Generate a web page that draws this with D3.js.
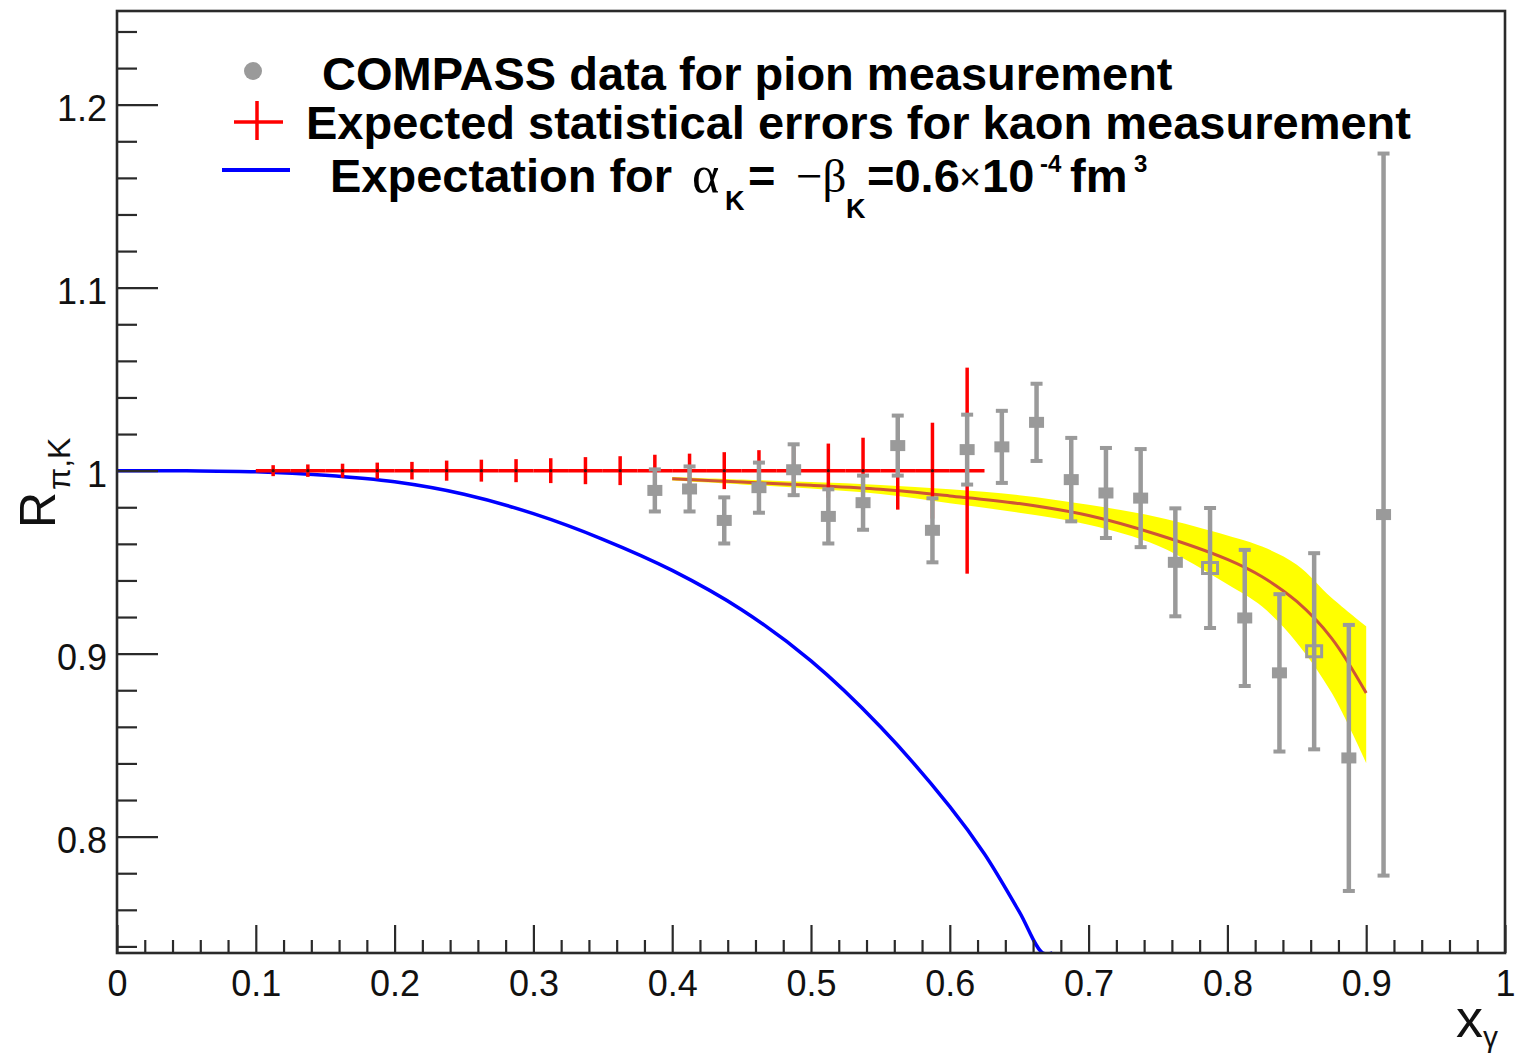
<!DOCTYPE html>
<html>
<head>
<meta charset="utf-8">
<script src="https://cdn.jsdelivr.net/npm/d3@7/dist/d3.min.js"></script>
<style>
  html, body { margin: 0; padding: 0; background: #fff; }
  svg { display: block; }
  text { font-family: "Liberation Sans", Arial, Helvetica, sans-serif; }
</style>
</head>
<body>
<svg id="chart" width="1528" height="1053"></svg>
<script>
// ---------------- data ----------------
// Expected statistical errors for kaon measurement (red crosses)
const kaonX   = [0.1125,0.1375,0.1625,0.1875,0.2125,0.2375,0.2625,0.2875,0.3125,0.3375,0.3625,0.3875,0.4125,0.4375,0.4625,0.4875,0.5125,0.5375,0.5625,0.5875,0.6125];
const kaonY   = [1,1,1,1,1,1,1,1,1,1,1,1,1,1,1,1,1,1,1,1,1];
const kaonErr = [0.0030,0.0034,0.0038,0.0044,0.0048,0.0055,0.0060,0.0063,0.0068,0.0074,0.0079,0.0087,0.0093,0.0101,0.0112,0.0126,0.0148,0.0180,0.0213,0.0262,0.0563];
const kaonBinHalf = 0.0125;

// COMPASS data for pion measurement (grey points)
const pionX   = [0.3875,0.4125,0.4375,0.4625,0.4875,0.5125,0.5375,0.5625,0.5875,0.6125,0.6375,0.6625,0.6875,0.7125,0.7375,0.7625,0.7875,0.8125,0.8375,0.8625,0.8875,0.9125];
const pionY   = [0.9892,0.9900,0.9728,0.9907,1.0005,0.9750,0.9825,1.0137,0.9674,1.0115,1.0130,1.0264,0.9951,0.9878,0.9850,0.9499,0.9468,0.9195,0.8895,0.9013,0.8430,0.9760];
const pionErr = [0.0115,0.0123,0.0126,0.0137,0.0139,0.0148,0.0148,0.0164,0.0175,0.0191,0.0197,0.0211,0.0228,0.0246,0.0268,0.0295,0.0328,0.0372,0.0430,0.0536,0.0727,0.1973];
const pionOpenX = [0.7875, 0.8625];

// Fit to pion data with error band (yellow)
const fitX    = [0.4,0.45,0.5,0.55,0.6,0.65,0.7,0.75,0.8,0.825,0.85,0.875,0.9];
const fitY    = [0.9956,0.9938,0.9920,0.9898,0.9862,0.9820,0.9755,0.9650,0.9515,0.9420,0.9285,0.9085,0.8785];
const bandHi  = [0.9966,0.9952,0.9938,0.9922,0.9898,0.9866,0.9813,0.9746,0.9646,0.9585,0.9486,0.9306,0.9150];
const bandLo  = [0.9946,0.9925,0.9902,0.9872,0.9822,0.9770,0.9705,0.9590,0.9379,0.9257,0.9060,0.8787,0.8403];

// Expectation for alpha_K = -beta_K = 0.6e-4 fm^3 (blue)
const expX = [0,0.05,0.1,0.15,0.2,0.25,0.3,0.35,0.4,0.45,0.5,0.55,0.6,0.625,0.65,0.667,0.674];
const expY = [1.0,0.9999,0.9994,0.9975,0.9939,0.9871,0.9765,0.9625,0.9455,0.9240,0.8960,0.8600,0.8164,0.7905,0.7590,0.7364,0.7300];

// axes
const xMajor = [0,0.1,0.2,0.3,0.4,0.5,0.6,0.7,0.8,0.9,1];
const xLabels = ["0","0.1","0.2","0.3","0.4","0.5","0.6","0.7","0.8","0.9","1"];
const yMajor = [0.8,0.9,1.0,1.1,1.2];
const yLabels = ["0.8","0.9","1","1.1","1.2"];
const xDomain = [0, 1];
const yDomain = [0.7364, 1.2512];

// ---------------- drawing ----------------
const svg = d3.select("#chart");
const L = 117, R = 1505, T = 11, B = 953;
const x = d3.scaleLinear().domain(xDomain).range([L, R]);
const y = d3.scaleLinear().domain(yDomain).range([B, T]).clamp(true);

const xMinor = d3.range(0, 1.0001, 0.02).filter(v => Math.abs(v*10 - Math.round(v*10)) > 1e-6);
const yMinor = d3.range(0.74, 1.2501, 0.02).filter(v => Math.abs(v*10 - Math.round(v*10)) > 1e-6);

svg.append("clipPath").attr("id","frameClip")
  .append("rect").attr("x",L).attr("y",T).attr("width",R-L).attr("height",B-T);

// yellow band
const band = fitX.map((v,i)=>({x:v, lo:bandLo[i], hi:bandHi[i], c:fitY[i]}));
svg.append("path").datum(band)
  .attr("fill","#ffff00")
  .attr("d", d3.area().curve(d3.curveCatmullRom.alpha(0.5)).x(d=>x(d.x)).y0(d=>y(d.lo)).y1(d=>y(d.hi)));
svg.append("path").datum(band)
  .attr("fill","none").attr("stroke","#cf5535").attr("stroke-width",3)
  .attr("d", d3.line().curve(d3.curveCatmullRom.alpha(0.5)).x(d=>x(d.x)).y(d=>y(d.c)));

// blue expectation curve
const expData = expX.map((v,i)=>({x:v, y:expY[i]}));
svg.append("path").datum(expData)
  .attr("clip-path","url(#frameClip)")
  .attr("fill","none").attr("stroke","#0000ff").attr("stroke-width",3.5)
  .attr("d", d3.line().curve(d3.curveCatmullRom.alpha(0.5)).x(d=>x(d.x)).y(d=>y(d.y)));

// red crosses
const kaon = kaonX.map((v,i)=>({x:v, y:kaonY[i], e:kaonErr[i]}));
const gK = svg.append("g").attr("stroke","#ff0000").attr("stroke-width",3.5);
gK.selectAll("line.h").data(kaon).join("line").attr("class","h")
  .attr("x1", d=>x(d.x-kaonBinHalf)).attr("x2", d=>x(d.x+kaonBinHalf))
  .attr("y1", d=>y(d.y)).attr("y2", d=>y(d.y));
gK.selectAll("line.v").data(kaon).join("line").attr("class","v")
  .attr("x1", d=>x(d.x)).attr("x2", d=>x(d.x))
  .attr("y1", d=>y(d.y-d.e)).attr("y2", d=>y(d.y+d.e));
svg.append("g").selectAll("circle").data(kaon).join("circle")
  .attr("cx", d=>x(d.x)).attr("cy", d=>y(d.y)).attr("r",1.6).attr("fill","#331111");

// grey COMPASS points
const pion = pionX.map((v,i)=>({x:v, y:pionY[i], e:pionErr[i], open: pionOpenX.some(o=>Math.abs(o-v)<1e-6)}));
const gP = svg.append("g");
gP.selectAll("line.bar").data(pion).join("line").attr("class","bar")
  .attr("stroke","#9a9a9a").attr("stroke-width",4.5)
  .attr("x1", d=>x(d.x)).attr("x2", d=>x(d.x))
  .attr("y1", d=>y(d.y-d.e)).attr("y2", d=>y(d.y+d.e));
gP.selectAll("line.capT").data(pion).join("line").attr("class","capT")
  .attr("stroke","#9a9a9a").attr("stroke-width",4)
  .attr("x1", d=>x(d.x)-6).attr("x2", d=>x(d.x)+6)
  .attr("y1", d=>y(d.y+d.e)).attr("y2", d=>y(d.y+d.e));
gP.selectAll("line.capB").data(pion).join("line").attr("class","capB")
  .attr("stroke","#9a9a9a").attr("stroke-width",4)
  .attr("x1", d=>x(d.x)-6).attr("x2", d=>x(d.x)+6)
  .attr("y1", d=>y(d.y-d.e)).attr("y2", d=>y(d.y-d.e));
gP.selectAll("rect").data(pion).join("rect")
  .attr("x", d=>x(d.x)-7.5).attr("y", d=>y(d.y)-5.5).attr("width",15).attr("height",11)
  .attr("fill", d=>d.open ? "none" : "#9a9a9a")
  .attr("stroke", "#9a9a9a").attr("stroke-width", d=>d.open ? 3 : 0);

// axes
const fmtX = d => xLabels[xMajor.findIndex(v=>Math.abs(v-d)<1e-9)];
const fmtY = d => yLabels[yMajor.findIndex(v=>Math.abs(v-d)<1e-9)];

const gxMinor = svg.append("g").attr("transform",`translate(0,${B})`)
  .call(d3.axisBottom(x).tickValues(xMinor).tickSize(-13).tickFormat(""));
const gx = svg.append("g").attr("transform",`translate(0,${B})`)
  .call(d3.axisBottom(x).tickValues(xMajor).tickSize(-28).tickPadding(17).tickFormat(fmtX));
const gyMinor = svg.append("g").attr("transform",`translate(${L},0)`)
  .call(d3.axisLeft(y).tickValues(yMinor).tickSize(-20).tickFormat(""));
const gy = svg.append("g").attr("transform",`translate(${L},0)`)
  .call(d3.axisLeft(y).tickValues(yMajor).tickSize(-41).tickPadding(10).tickFormat(fmtY));

[gxMinor,gx,gyMinor,gy].forEach(g=>{
  g.select(".domain").remove();
  g.selectAll(".tick line").attr("stroke","#2a2a2a").attr("stroke-width",2.2);
  g.selectAll(".tick text").attr("fill","#111").attr("font-size",36)
    .attr("font-family",'"Liberation Sans", Arial, sans-serif');
});
gy.selectAll(".tick text").attr("dy","0.43em");

// frame
svg.append("rect").attr("x",L).attr("y",T).attr("width",R-L).attr("height",B-T)
  .attr("fill","none").attr("stroke","#2a2a2a").attr("stroke-width",2.6);

// axis titles
const yt = svg.append("text").attr("transform","translate(55,528) rotate(-90)").attr("fill","#111");
yt.append("tspan").attr("font-size",50).text("R");
yt.append("tspan").attr("font-size",32).attr("dy",15).attr("dx",2).text("π,K");

const xt = svg.append("text").attr("x",1456).attr("y",1037).attr("fill","#111");
xt.append("tspan").attr("font-size",54).text("x");
xt.append("tspan").attr("font-size",30).attr("dy",10).text("γ");

// legend
const lg = svg.append("g").attr("font-weight","bold").attr("fill","#000");
lg.append("circle").attr("cx",253).attr("cy",71).attr("r",9).attr("fill","#9a9a9a");
lg.append("text").attr("x",322).attr("y",90).attr("font-size",47).text("COMPASS data for pion measurement");

lg.append("line").attr("x1",234).attr("x2",283).attr("y1",122).attr("y2",122).attr("stroke","#ff0000").attr("stroke-width",3.5);
lg.append("line").attr("x1",257).attr("x2",257).attr("y1",101).attr("y2",140).attr("stroke","#ff0000").attr("stroke-width",3.5);
lg.append("text").attr("x",306).attr("y",139).attr("font-size",47).text("Expected statistical errors for kaon measurement");

lg.append("line").attr("x1",222).attr("x2",290).attr("y1",170).attr("y2",170).attr("stroke","#0000ff").attr("stroke-width",4);
const t3 = lg.append("text").attr("y",192).attr("font-size",47);
t3.append("tspan").attr("x",330).text("Expectation for");
t3.append("tspan").attr("x",692).attr("y",192).attr("font-size",52).attr("font-family",'"Liberation Serif", "DejaVu Serif", serif').attr("font-weight","normal").text("α");
t3.append("tspan").attr("x",725).attr("y",210).attr("font-size",27).text("K");
t3.append("tspan").attr("x",748).attr("y",192).text("=");
t3.append("tspan").attr("x",796).attr("y",192).attr("font-family",'"Liberation Serif", "DejaVu Serif", serif').attr("font-weight","normal").text("−β");
t3.append("tspan").attr("x",846).attr("y",218).attr("font-size",27).text("K");
t3.append("tspan").attr("x",867).attr("y",192).text("=0.6");
t3.append("tspan").attr("x",959).attr("y",190).attr("font-weight","normal").attr("font-size",38).text("×");
t3.append("tspan").attr("x",982).attr("y",192).text("10");
t3.append("tspan").attr("x",1040).attr("y",172).attr("font-size",24).text("-4");
t3.append("tspan").attr("x",1070).attr("y",192).text("fm");
t3.append("tspan").attr("x",1134).attr("y",172).attr("font-size",24).text("3");
</script>
</body>
</html>
